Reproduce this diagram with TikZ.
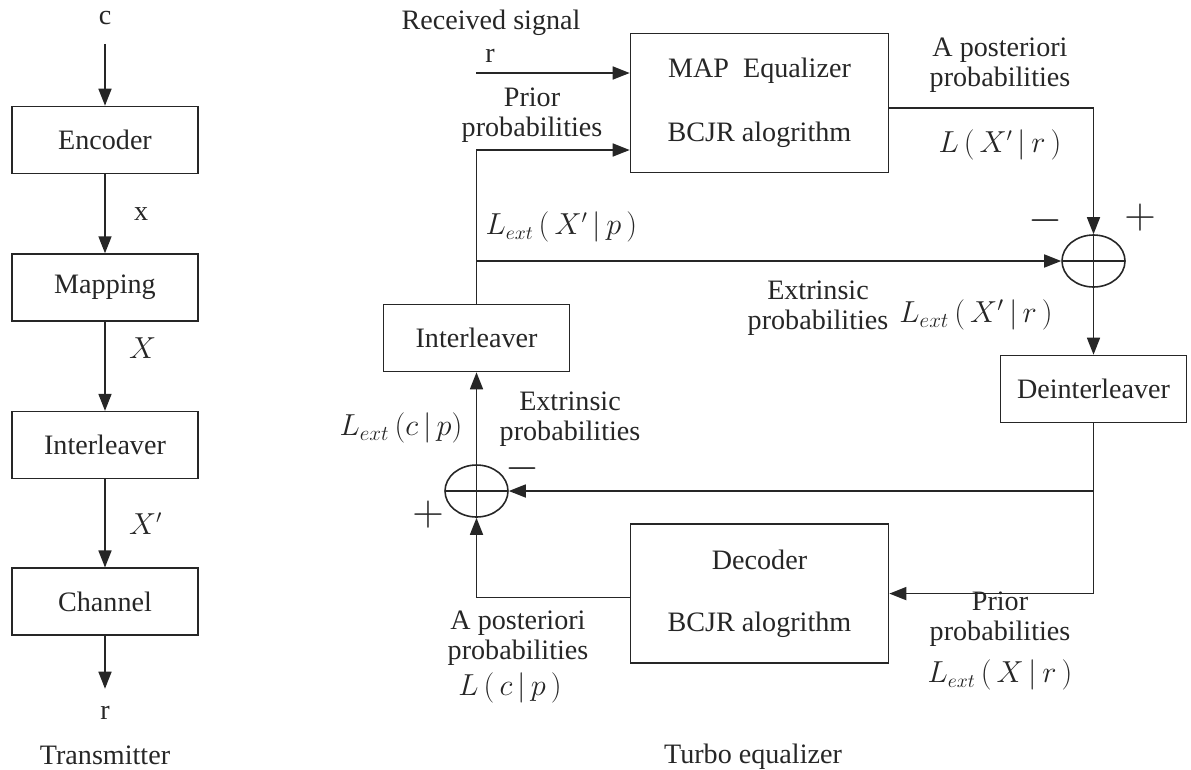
\documentclass[tikz,border=0pt]{standalone}
\usepackage{amsmath}
\usepackage{fontspec}
\setmainfont{Liberation Serif}
\usetikzlibrary{positioning,arrows.meta,shapes.geometric}

\tikzset{
  blk/.style={draw, minimum width=3.72cm, minimum height=1.34cm},
  bigblk/.style={draw, minimum width=5.16cm, minimum height=2.78cm, align=center},
  sumnode/.style={draw, ellipse, minimum width=1.26cm, minimum height=1.04cm, inner sep=0pt,
    path picture={\draw (path picture bounding box.north) -- (path picture bounding box.south)
      (path picture bounding box.west) -- (path picture bounding box.east);}},
  lbl/.style={align=center},
  mth/.style={font=\fontsize{16}{18}\selectfont},
  bigmth/.style={font=\fontsize{18}{20}\selectfont},
  sgn/.style={font=\fontsize{26}{28}\selectfont, inner sep=0pt},
  sgnm/.style={sgn, text height=0.35em, text depth=0pt},
  sig/.style={-{Triangle[length=3.4mm,width=2.6mm]}},
}

\begin{document}
\begin{tikzpicture}[line width=0.9pt, color=black!85, font=\fontsize{16}{17}\selectfont]
\useasboundingbox (0,0) rectangle (23.82,-15.38);
%----------------------------------
\node (c) at (2.1,-0.36) {c};
\node [blk] (enc) at (2.1,-2.8) {Encoder};
\node [blk, below=1.58cm of enc] (map) {Mapping};
\node [blk, below=1.78cm of map] (ilv) {Interleaver};
\node [blk, below=1.76cm of ilv] (chan) {Channel};
\node (r) at (2.1,-14.26) {r};
\node (tx) at (2.1,-15.1) {Transmitter};
\draw [sig, shorten <=0.25cm] (c) -- (enc);
\draw [sig] (enc) -- node [right=0.45cm] (lx) {x} (map);
\draw [sig] (map) -- node [pos=0.3, right=0.35cm] (lX) {$X$} (ilv);
\draw [sig] (ilv) -- node [right=0.35cm] (lXp) {$X'$} (chan);
\draw [sig, shorten >=0.22cm] (chan) -- (r);
%----------------------------------
\node [bigblk] (eq) at (15.19,-2.06) {MAP\ \ Equalizer\\[0.68cm]BCJR alogrithm};
\node [bigblk, below=7cm of eq] (dec) {Decoder\\[0.64cm]BCJR alogrithm};
\node [blk] (deint) at (21.87,-7.78) {Deinterleaver};
\node [blk] (ilvR) at (9.53,-6.76) {Interleaver};
\node [sumnode] (sumR) at (21.87,-5.22) {};
\node [sumnode] (sumL) at (9.53,-9.82) {};
\coordinate (rin) at (9.52,-1.46);
%----------------------------------
\node (rs) at (9.82,-0.46) {Received signal};
\node (rr) at (9.8,-1.12) {r};
\node [lbl] (pp1) at (10.64,-2.3) {Prior\\probabilities};
\node [mth, anchor=west] (lxp) at (9.58,-4.54) {$L_{ext}\,(\,X'\,|\,p\,)$};
\node [lbl] (ap1) at (20.0,-1.3) {A posteriori\\probabilities};
\node [mth] (lxr) at (20.0,-2.9) {$L\,(\,X'\,|\,r\,)$};
\node [sgnm] (mR) at (20.9,-4.56) {$-$};
\node [sgn] (pR) at (22.8,-4.36) {$+$};
\node [lbl] (ex1) at (16.36,-6.16) {Extrinsic\\probabilities};
\node [bigmth] (lexr) at (19.52,-6.3) {$L_{ext}\,(\,X'\,|\,r\,)$};
\node [lbl] (ex2) at (11.4,-8.38) {Extrinsic\\probabilities};
\node [bigmth, anchor=east] (lecp) at (9.38,-8.56) {$L_{ext}\,(c\,|\,p)$};
\node [sgnm] (mL) at (10.44,-9.52) {$-$};
\node [sgn] (pL) at (8.56,-10.3) {$+$};
\node [lbl] (ap2) at (10.36,-12.76) {A posteriori\\probabilities};
\node [mth] (lcp) at (10.2,-13.76) {$L\,(\,c\,|\,p\,)$};
\node [lbl] (pp2) at (20.0,-12.38) {Prior\\probabilities};
\node [mth] (lxr2) at (20.0,-13.5) {$L_{ext}\,(\,X\,|\,r\,)$};
\node (te) at (15.06,-15.14) {Turbo equalizer};
%----------------------------------
\draw [sig] (rin) -- (rin -| eq.west);
\draw [sig] (ilvR.north) |- ([yshift=-0.94cm]eq.west);
\draw [sig] (ilvR.north |- sumR.west) -- (sumR.west);
\draw [sig] ([yshift=-0.1cm]eq.east) -| (sumR.north);
\draw [sig] (sumR.south) -- (deint.north);
\draw [sig] (deint.south) |- (dec.east);
\draw [sig] (deint.south |- sumL.east) -- (sumL.east);
\draw [sig] ([yshift=-0.08cm]dec.west) -| (sumL.south);
\draw [sig] (sumL.north) -- (ilvR.south);
\end{tikzpicture}
\end{document}
